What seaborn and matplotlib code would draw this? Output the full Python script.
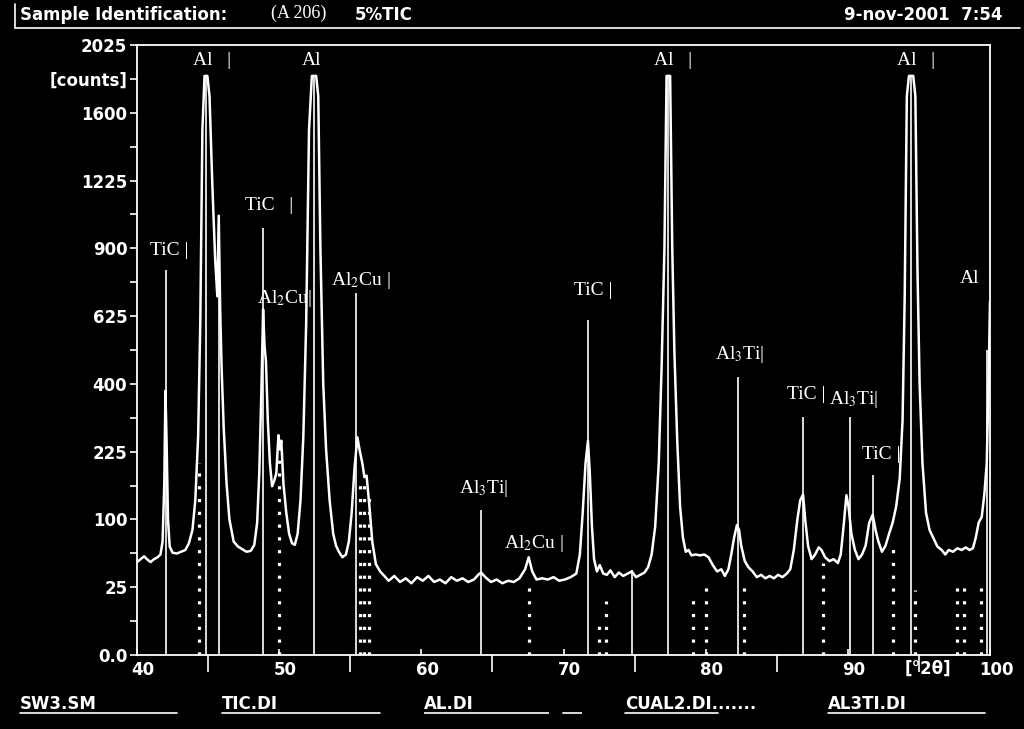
import numpy as np
import pandas as pd
import seaborn as sns
import matplotlib.pyplot as plt
import matplotlib.transforms as mtransforms
from matplotlib.lines import Line2D

########## measured pattern SW3.SM  (2theta [deg], counts) ##########
# Al main peaks are off scale: the plotter cut them at ~1825 counts

two_theta = [40.0, 40.25, 40.5, 40.7, 40.95, 41.2, 41.45, 41.65, 41.8, 41.92, 42.0, 42.08, 42.18, 42.3, 42.5,
             42.8, 43.1, 43.4, 43.65, 43.9, 44.1, 44.3, 44.45, 44.6, 44.75, 44.85, 44.95, 45.1, 45.3, 45.5,
             45.65, 45.75, 45.85, 45.95, 46.1, 46.3, 46.5, 46.8, 47.1, 47.4, 47.7, 48.0, 48.25, 48.45, 48.6,
             48.75, 48.87, 48.97, 49.07, 49.2, 49.35, 49.5, 49.65, 49.8, 49.95, 50.05, 50.15, 50.3, 50.5, 50.7,
             50.9, 51.1, 51.3, 51.5, 51.7, 51.9, 52.1, 52.3, 52.45, 52.6, 52.75, 52.9, 53.1, 53.3, 53.55,
             53.8, 54.0, 54.2, 54.45, 54.7, 54.9, 55.1, 55.3, 55.5, 55.65, 55.85, 56.0, 56.15, 56.35, 56.55,
             56.8, 57.1, 57.4, 57.7, 58.1, 58.5, 58.9, 59.3, 59.7, 60.1, 60.5, 60.9, 61.3, 61.7, 62.1,
             62.5, 62.9, 63.3, 63.7, 64.0, 64.2, 64.5, 64.9, 65.3, 65.7, 66.1, 66.5, 66.9, 67.3, 67.55,
             67.8, 68.1, 68.5, 68.9, 69.3, 69.7, 70.1, 70.5, 70.9, 71.15, 71.35, 71.55, 71.72, 71.85, 72.0,
             72.15, 72.35, 72.55, 72.8, 73.05, 73.3, 73.6, 73.9, 74.2, 74.5, 74.8, 75.1, 75.4, 75.7, 75.95,
             76.2, 76.45, 76.7, 76.9, 77.1, 77.25, 77.38, 77.5, 77.65, 77.8, 78.0, 78.2, 78.4, 78.6, 78.8,
             79.0, 79.3, 79.6, 79.9, 80.2, 80.5, 80.8, 81.1, 81.35, 81.6, 81.8, 82.0, 82.2, 82.35, 82.5,
             82.75, 83.0, 83.3, 83.6, 83.9, 84.2, 84.5, 84.8, 85.1, 85.4, 85.7, 85.95, 86.2, 86.45, 86.65,
             86.85, 87.0, 87.2, 87.45, 87.7, 87.95, 88.15, 88.4, 88.7, 89.0, 89.3, 89.5, 89.7, 89.9, 90.05,
             90.25, 90.5, 90.75, 91.0, 91.25, 91.5, 91.75, 91.95, 92.15, 92.4, 92.65, 92.9, 93.15, 93.4, 93.65,
             93.85, 94.0, 94.15, 94.3, 94.45, 94.6, 94.75, 94.9, 95.05, 95.25, 95.5, 95.75, 96.0, 96.3, 96.6,
             96.85, 97.1, 97.4, 97.7, 98.0, 98.3, 98.55, 98.8, 99.0, 99.2, 99.42, 99.6, 99.77, 99.9, 100.0]

counts = [47, 50, 53, 50, 47, 50, 52, 55, 70, 160, 380, 250, 100, 64, 57,
          56, 58, 60, 68, 85, 130, 260, 600, 1500, 1825, 1825, 1825, 1700, 1200, 850,
          700, 1050, 650, 450, 280, 160, 100, 70, 64, 61, 58, 59, 66, 95, 180,
          380, 650, 520, 470, 300, 200, 155, 165, 180, 263, 230, 250, 160, 110, 80,
          68, 66, 80, 130, 260, 600, 1500, 1825, 1825, 1825, 1700, 900, 400, 230, 130,
          80, 65, 58, 52, 55, 70, 110, 190, 258, 230, 200, 172, 175, 120, 70,
          45, 38, 34, 30, 34, 29, 32, 28, 33, 30, 34, 29, 31, 28, 33,
          30, 32, 29, 31, 35, 37, 33, 29, 31, 28, 30, 29, 32, 40, 52,
          38, 31, 32, 31, 33, 30, 31, 33, 36, 55, 110, 200, 250, 180, 90,
          50, 38, 44, 36, 35, 39, 33, 37, 34, 36, 38, 33, 35, 37, 42,
          55, 90, 200, 450, 900, 1825, 1825, 1825, 900, 500, 250, 120, 75, 58, 60,
          54, 55, 54, 55, 52, 44, 38, 40, 34, 40, 55, 75, 92, 85, 65,
          48, 42, 38, 33, 35, 32, 34, 32, 35, 33, 36, 40, 60, 100, 130,
          140, 100, 65, 50, 55, 63, 60, 52, 48, 50, 46, 55, 90, 139, 120,
          80, 60, 50, 55, 65, 95, 107, 85, 70, 58, 65, 80, 95, 120, 170,
          300, 700, 1700, 1825, 1825, 1825, 1700, 800, 400, 200, 110, 85, 75, 64, 60,
          55, 60, 58, 62, 60, 63, 60, 62, 75, 95, 104, 140, 200, 400, 680]

########## reference line files ##########

tic_pos = [42.04, 48.86, 71.72, 86.84, 91.76]
tic_int = [806, 992, 610, 308, 176]

al_pos = [44.85, 45.77, 52.45, 77.38, 94.45, 99.8]
al_int = [1825, 1053, 1825, 1825, 1825, 506]

al3ti_pos = [55.42, 64.19, 74.85, 82.26, 90.14]
al3ti_int = [713, 114, 39, 420, 308]

cual2_pos = [44.36, 50.02, 55.7, 56.0, 56.3, 67.6, 72.5, 73.0, 79.1, 80.0,
             82.7, 88.25, 93.2, 94.7, 97.7, 98.2, 99.35]
cual2_int = [200, 215, 167, 175, 150, 26, 4.5, 16, 16.5, 28,
             29, 46, 63, 23, 29, 29, 29]

# phase labels (text, 2theta, counts)
label_text = ['TiC |', 'Al   |', 'TiC   |', 'Al$_2$Cu|', 'Al', 'Al$_2$Cu |', 'Al$_3$Ti|', 'Al$_2$Cu |',
              'TiC |', 'Al   |', 'Al$_3$Ti|', 'TiC |', 'Al$_3$Ti|', 'TiC |', 'Al   |', 'Al']
label_x = [42.26, 45.27, 49.28, 50.34, 52.3, 55.75, 64.4, 67.9,
           72.07, 77.7, 82.4, 87.05, 90.42, 92.32, 94.78, 98.58]
label_y = [892, 1926, 1102, 693, 1926, 765, 150, 68,
           725, 1926, 490, 368, 354, 218, 1926, 773]

y_major = [0, 25, 100, 225, 400, 625, 900, 1225, 1600, 1806.25, 2025]
y_major_labels = ['0.0', '25', '100', '225', '400', '625', '900', '1225', '1600', '[counts]', '2025']
y_minor = [6.25, 56.25, 156.25, 306.25, 506.25, 756.25, 1056.25, 1406.25]

x_major = [40, 50, 60, 70, 80, 90, 100]
x_minor = [45, 55, 65, 75, 85, 95]

legend_names = ['SW3.SM', 'TIC.DI', 'AL.DI', 'CUAL2.DI.......', 'AL3TI.DI']
legend_x = [20, 222, 424, 625, 828]

##########  style  ##########

sns.set_theme(style="ticks", rc={
    'figure.facecolor': 'black', 'axes.facecolor': 'black', 'savefig.facecolor': 'black',
    'axes.edgecolor': 'white', 'xtick.color': 'white', 'ytick.color': 'white',
    'text.color': 'white', 'axes.labelcolor': 'white', 'axes.linewidth': 1.3,
})
plt.rcParams['font.family'] = ['DejaVu Sans']
plt.rcParams['mathtext.fontset'] = 'stix'

W, H = 1024, 729
fig = plt.figure(figsize=(W / 100, H / 100), dpi=100)
ax = fig.add_axes([137 / W, 1 - 655 / H, (990 - 137) / W, (655 - 45) / H])

ax.set_yscale('function', functions=(lambda v: np.sqrt(np.clip(v, 0, None)), lambda v: np.square(v)))

df = pd.DataFrame({'two_theta': two_theta, 'counts': counts})
sns.lineplot(data=df, x='two_theta', y='counts', color='white', lw=1.8, sort=False,
             errorbar=None, ax=ax)

ax.vlines(tic_pos, 0, tic_int, colors='white', lw=1.2)
ax.vlines(al_pos, 0, al_int, colors='white', lw=1.2)
ax.vlines(al3ti_pos, 0, al3ti_int, colors='white', lw=1.2)
ax.vlines(cual2_pos, 0, cual2_int, colors='white', lw=2.3, linestyles=(0, (1, 3)))

for s, x, y in zip(label_text, label_x, label_y):
    ax.text(x, y, s, ha='center', va='center', fontsize=14, family='Liberation Serif', color='white')

ax.set_xlim(40, 100)
ax.set_ylim(0, 2025)
ax.set_xlabel('')
ax.set_ylabel('')
for sp in ax.spines.values():
    sp.set_visible(True)
    sp.set_color('white')

ax.set_yticks(y_major)
ax.set_yticklabels(y_major_labels)
ax.set_yticks(y_minor, minor=True)
ax.tick_params(axis='y', which='both', direction='out', length=5, width=1.2, pad=2,
               labelsize=12)
ax.set_xticks(x_major)
ax.set_xticklabels([str(v) for v in x_major])
ax.set_xticks(x_minor, minor=True)
ax.tick_params(axis='x', which='major', direction='in', length=4, width=1.2, pad=4, labelsize=12)
ax.tick_params(axis='x', which='minor', direction='out', length=12, width=1.2)
for t in ax.get_xticklabels() + ax.get_yticklabels():
    t.set_fontweight('bold')
shift = mtransforms.ScaledTranslation(6 / 100, 0, fig.dpi_scale_trans)
for t in ax.get_xticklabels():
    t.set_transform(t.get_transform() + shift)

ax.text(95.6, -0.022, '[°2θ]', transform=ax.get_xaxis_transform(), ha='center', va='center',
        fontsize=12, fontweight='bold')

##########  header / footer  ##########

def fx(px):
    return px / W


def fy(py):
    return 1 - py / H


fig.text(fx(20), fy(15), 'Sample Identification:', fontsize=12, fontweight='bold', va='center')
fig.text(fx(271), fy(13), '(A 206)', fontsize=13, family='Liberation Serif', va='center')
fig.text(fx(355), fy(15), '5%TIC', fontsize=12, fontweight='bold', va='center')
fig.text(fx(1003), fy(15), '9-nov-2001  7:54', fontsize=12, fontweight='bold', va='center', ha='right')
fig.add_artist(Line2D([fx(15), fx(1020)], [fy(28), fy(28)], color='white', lw=1.2))
fig.add_artist(Line2D([fx(15), fx(15)], [fy(4), fy(28)], color='white', lw=1.2))

for name, x0 in zip(legend_names, legend_x):
    fig.text(fx(x0), fy(704), name, fontsize=12, fontweight='bold', va='center')
fig.add_artist(Line2D([fx(20), fx(177)], [fy(713), fy(713)], color='white', lw=1.2))
fig.add_artist(Line2D([fx(222), fx(380)], [fy(713), fy(713)], color='white', lw=1.2))
fig.add_artist(Line2D([fx(424), fx(582)], [fy(713), fy(713)], color='white', lw=1.2,
                      linestyle=(0, (75, 8))))
fig.add_artist(Line2D([fx(625), fx(718)], [fy(713), fy(713)], color='white', lw=1.2))
fig.add_artist(Line2D([fx(828), fx(985)], [fy(713), fy(713)], color='white', lw=1.2))

fig.savefig('out.png', dpi=100, facecolor='black')
